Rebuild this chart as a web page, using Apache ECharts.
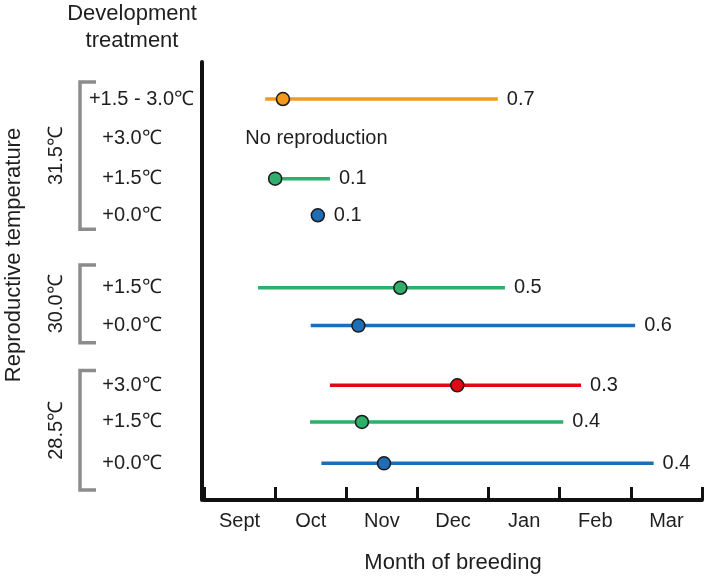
<!DOCTYPE html>
<html><head><meta charset="utf-8">
<script src="https://cdn.jsdelivr.net/npm/echarts@6/dist/echarts.min.js"></script>
<style>html,body{margin:0;padding:0;background:#fff}#c{width:709px;height:579px}</style>
</head><body><div id="c"></div><script>
// ---- data ----
const months = ['Sept', 'Oct', 'Nov', 'Dec', 'Jan', 'Feb', 'Mar'];
const rowLabels = ['+1.5 - 3.0℃', '+3.0℃', '+1.5℃', '+0.0℃', '+1.5℃', '+0.0℃', '+3.0℃', '+1.5℃', '+0.0℃'];
const rowPos = [10.07, 9.07, 8.07, 7.15, 5.33, 4.38, 2.88, 1.96, 0.92];
const rowTreat = ['mix', '3.0', '1.5', '0.0', '1.5', '0.0', '3.0', '1.5', '0.0'];
const startMonth = [0.86, null, 1.0, null, 0.76, 1.50, 1.77, 1.49, 1.65];
const endMonth = [4.13, null, 1.77, null, 4.23, 6.06, 5.30, 5.05, 6.32];
const meanMonth = [1.11, null, 1.0, 1.60, 2.76, 2.17, 3.56, 2.22, 2.53];
const propValue = ['0.7', null, '0.1', '0.1', '0.5', '0.6', '0.3', '0.4', '0.4'];
const notes = [null, 'No reproduction', null, null, null, null, null, null, null];
const noteMonth = [null, 0.58, null, null, null, null, null, null, null];
const groupLabels = ['31.5℃', '30.0℃', '28.5℃'];
const groupTop = [10.5, 5.9, 3.25];
const groupBottom = [6.8, 3.95, 0.25];

// ---- styling ----
const FONT = 'Liberation Sans, Arial, Helvetica, sans-serif';
const TXT = '#1e1e1e';
const FS = 20;
const treatColor = { mix: '#F4991D', '3.0': '#E30613', '1.5': '#2FAE6C', '0.0': '#1F6DB4' };

const chart = echarts.init(document.getElementById('c'));

function renderRow(params, api) {
  const i = api.value(0);
  const p = rowPos[i];
  const y = api.coord([0, p])[1];
  const col = treatColor[rowTreat[i]];
  const children = [];
  let right = null;
  if (startMonth[i] != null) {
    const a = api.coord([startMonth[i], p]);
    const b = api.coord([endMonth[i], p]);
    children.push({ type: 'line', shape: { x1: a[0], y1: y, x2: b[0], y2: y },
      style: { stroke: col, lineWidth: 3.5 } });
    right = b[0];
  }
  if (meanMonth[i] != null) {
    const m = api.coord([meanMonth[i], p]);
    children.push({ type: 'circle', shape: { cx: m[0], cy: y, r: 6.5 },
      style: { fill: col, stroke: '#1a1a1a', lineWidth: 1.5 } });
    right = Math.max(right == null ? -1e9 : right, m[0] + 7);
  }
  if (propValue[i] != null) {
    children.push({ type: 'text', x: right + 9, y: y,
      style: { text: propValue[i], fill: TXT, fontSize: FS, fontFamily: FONT, align: 'left', verticalAlign: 'middle' } });
  }
  if (notes[i] != null) {
    const n = api.coord([noteMonth[i], p]);
    children.push({ type: 'text', x: n[0], y: y,
      style: { text: notes[i], fill: TXT, fontSize: FS, fontFamily: FONT, align: 'left', verticalAlign: 'middle' } });
  }
  return { type: 'group', children };
}

function renderLeft(params, api) {
  const i = api.value(0);
  const c = api.coord([0, rowPos[i]]);
  const longLbl = rowLabels[i].length > 8;
  return { type: 'text', x: longLbl ? c[0] - 10 : c[0] - 72, y: c[1],
    style: { text: rowLabels[i], fill: TXT, fontSize: FS, fontFamily: FONT,
      align: longLbl ? 'right' : 'center', verticalAlign: 'middle' } };
}

function renderGroup(params, api) {
  const g = api.value(0);
  const t = api.coord([0, groupTop[g]]);
  const b = api.coord([0, groupBottom[g]]);
  const bx = t[0] - 124, sx = t[0] - 108;
  const st = { stroke: '#8c8c8c', lineWidth: 3.5, fill: null };
  return { type: 'group', children: [
    { type: 'polyline', shape: { points: [[sx, t[1]], [bx, t[1]], [bx, b[1]], [sx, b[1]]] }, style: st },
    { type: 'text', x: t[0] - 148, y: (t[1] + b[1]) / 2, rotation: Math.PI / 2,
      style: { text: groupLabels[g], fill: TXT, fontSize: FS, fontFamily: FONT, align: 'center', verticalAlign: 'middle' } }
  ] };
}

chart.setOption({
  animation: false,
  backgroundColor: '#fff',
  grid: { left: 204, right: 7, top: 62, bottom: 77, containLabel: false },
  xAxis: [
    { type: 'category', data: months, boundaryGap: true,
      axisLine: { show: true, onZero: false, lineStyle: { color: '#111', width: 4 } },
      axisTick: { show: true, inside: true, length: 13, lineStyle: { color: '#111', width: 3 } },
      axisLabel: { color: TXT, fontSize: FS, fontFamily: FONT, margin: 11 },
      splitLine: { show: false },
      name: 'Month of breeding', nameLocation: 'middle', nameGap: 52,
      nameTextStyle: { color: TXT, fontSize: 22, fontFamily: FONT } },
    { type: 'value', min: 0, max: 7, show: false }
  ],
  yAxis: { type: 'value', min: 0, max: 11, offset: 2,
    axisLine: { show: true, onZero: false, lineStyle: { color: '#111', width: 4 } },
    axisTick: { show: false }, axisLabel: { show: false }, splitLine: { show: false } },
  graphic: [
    { type: 'text', x: 132, y: 27, style: { text: 'Development\ntreatment', fill: TXT, fontSize: 22,
      fontFamily: FONT, align: 'center', verticalAlign: 'middle', lineHeight: 27 } },
    { type: 'text', x: 14, y: 255, rotation: Math.PI / 2, style: { text: 'Reproductive temperature', fill: TXT,
      fontSize: 22, fontFamily: FONT, align: 'center', verticalAlign: 'middle' } }
  ],
  series: [
    { type: 'custom', xAxisIndex: 1, yAxisIndex: 0, clip: false, renderItem: renderGroup,
      data: groupLabels.map((g, i) => [i, groupTop[i]]) },
    { type: 'custom', xAxisIndex: 1, yAxisIndex: 0, clip: false, renderItem: renderLeft,
      data: rowLabels.map((l, i) => [i, rowPos[i]]) },
    { type: 'custom', xAxisIndex: 1, yAxisIndex: 0, clip: false, renderItem: renderRow,
      data: rowLabels.map((l, i) => [i, rowPos[i]]) }
  ]
});
</script></body></html>
